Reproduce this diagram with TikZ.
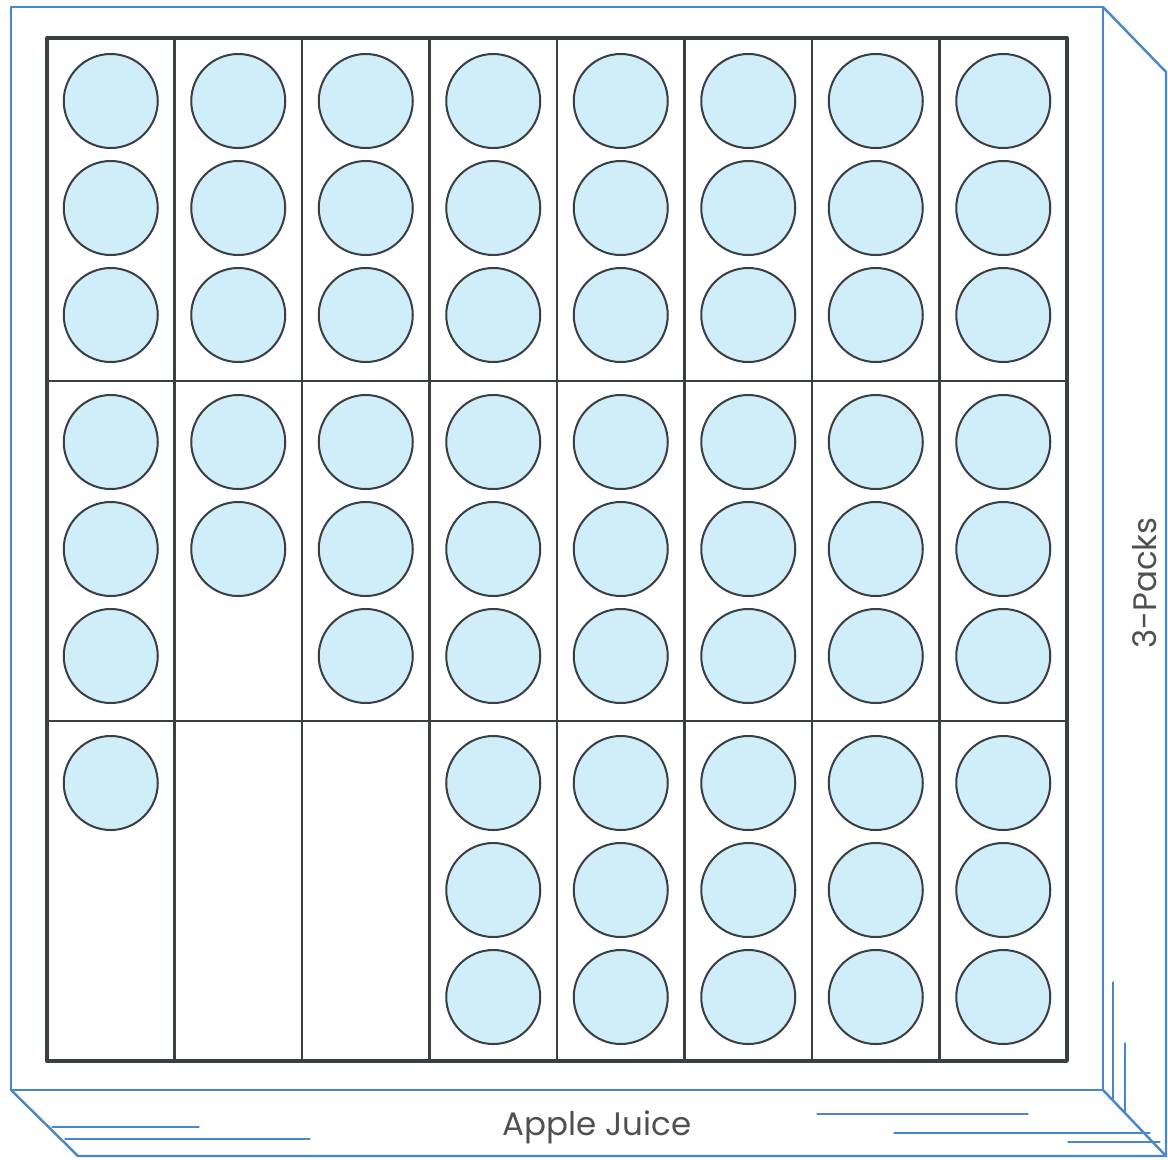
\documentclass[tikz,border=0pt]{standalone}
\usepackage{fontspec}
\setmainfont{Poppins}
\definecolor{CartonBlue}{HTML}{4A86CC}
\definecolor{CanFill}{HTML}{D0EEF9}
\definecolor{TrayInk}{HTML}{3A3F44}
\definecolor{LabelGray}{HTML}{505050}
\tikzset{
  can/.style={circle,draw=TrayInk,fill=CanFill,line width=1.15pt,minimum size=18.8mm,inner sep=0pt},
  carton/.style={CartonBlue,line width=1.4pt},
  streak/.style={CartonBlue,line width=0.7pt},
  cartonlabel/.style={text=LabelGray,font=\fontsize{18.5}{22}\selectfont,inner sep=0pt}
}

\begin{document}
\begin{tikzpicture}[x=0.2mm,y=-0.2mm,line cap=round,line join=round]
  \useasboundingbox (0,0) rectangle (1168,1159);
  \draw[carton] (11,7) rectangle (1103,1090);
  \draw[carton] (1103,7) -- (1166,72) -- (1166,1156);
  \draw[carton] (11,1090) -- (78,1156) -- (1166,1156);
  \draw[carton] (1103,1090) -- (1166,1156);
  \draw[streak] (1113,982) -- (1113,1100);
  \draw[streak] (1125,1043) -- (1125,1112);
  \draw[streak] (52,1127) -- (199,1127);
  \draw[streak] (65,1139) -- (310,1139);
  \draw[streak] (817,1114) -- (1028,1114);
  \draw[streak] (894,1133) -- (1150,1133);
  \draw[streak] (1068,1142) -- (1160,1142);
  \foreach \col in {1,...,7}
    \draw[TrayInk,line width=1.2pt] ({47+127.5*\col},38) -- ({47+127.5*\col},1061);
  \draw[TrayInk,line width=1.4pt] (47,381) -- (1067,381);
  \draw[TrayInk,line width=1.4pt] (47,721) -- (1067,721);
  \draw[TrayInk,line width=1.9pt] (47,38) rectangle (1067,1061);
  \foreach \row/\counts in {0/{3,3,3,3,3,3,3,3},1/{3,2,3,3,3,3,3,3},2/{1,0,0,3,3,3,3,3}}{
    \foreach \n [count=\col from 0] in \counts{
      \foreach \k in {1,2,3}{
        \ifnum\k>\n\relax\else
          \node[can] (can-\row-\col-\k) at ({110.75+127.5*\col},{38+341*\row+63+107*(\k-1)}) {};
        \fi
      }
    }
  }
  \node[cartonlabel,anchor=base] (front) at (597,1135) {Apple Juice};
  \node[cartonlabel,anchor=base,rotate=90] (side) at (1156,583) {3-Packs};
\end{tikzpicture}
\end{document}
